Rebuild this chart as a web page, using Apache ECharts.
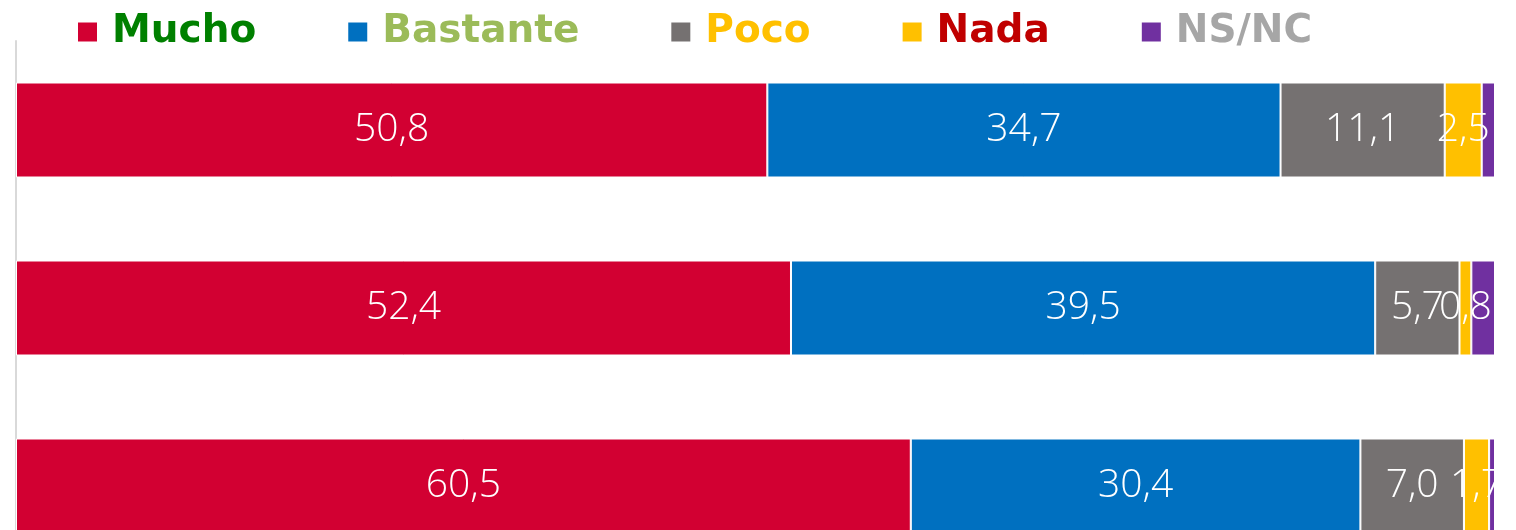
<!DOCTYPE html>
<html>
<head>
<meta charset="utf-8">
<script src="https://cdn.jsdelivr.net/npm/echarts@6/dist/echarts.min.js"></script>
<style>
  html, body { margin: 0; padding: 0; background: #fff; overflow: hidden; }
  #wrap { width: 1516px; height: 530px; overflow: hidden; }
  /* the reference is a crop: the plot continues below the window */
  #main { width: 1516px; height: 575px; }
</style>
</head>
<body>
<div id="wrap"><div id="main"></div></div>
<script>
// filas (las etiquetas no se ven en el recorte)
var categories = ['Fila 1', 'Fila 2', 'Fila 3'];

var mucho    = [50.8, 52.4, 60.5];
var bastante = [34.7, 39.5, 30.4];
var poco     = [11.1, 5.7, 7.0];
var nada     = [2.5, 0.8, 1.7];
var nsnc     = [0.9, 1.6, 0.4];

var names      = ['Mucho', 'Bastante', 'Poco', 'Nada', 'NS/NC'];
var barColors  = ['#D20032', '#0070C0', '#757171', '#FFC000', '#7030A0'];
var textColors = ['#008000', '#9BBB59', '#FFC000', '#C00000', '#A6A6A6'];
var values     = [mucho, bastante, poco, nada, nsnc];

var chart = echarts.init(document.getElementById('main'));

var series = names.map(function (n, i) {
  return {
    name: n,
    type: 'bar',
    stack: 'total',
    barWidth: 95,
    data: values[i],
    itemStyle: {
      color: barColors[i],
      borderColor: '#fff',
      borderWidth: 1
    },
    label: {
      show: n !== 'NS/NC',
      position: 'inside',
      color: '#fff',
      fontSize: 39,
      fontFamily: 'Open Sans',
      fontWeight: 300,
      formatter: function (p) {
        return p.value.toFixed(1).replace('.', ',');
      }
    }
  };
});

var option = {
  animation: false,
  legend: {
    left: 71,
    top: 6,
    itemWidth: 21,
    itemHeight: 21,
    itemGap: 90,
    icon: 'rect',
    textStyle: {
      fontSize: 39,
      fontWeight: 'bold',
      fontFamily: 'DejaVu Sans',
      lineHeight: 42,
      padding: [0, 0, 0, 9]
    },
    data: names.map(function (n, i) {
      return { name: n, textStyle: { color: textColors[i] } };
    })
  },
  grid: {
    left: 16,
    right: 21,
    top: 41,
    bottom: 0
  },
  xAxis: {
    type: 'value',
    min: 0,
    max: 100,
    show: false
  },
  yAxis: {
    type: 'category',
    inverse: true,
    data: categories,
    axisLine: { show: true, lineStyle: { color: '#D9D9D9', width: 2 } },
    axisTick: { show: false },
    axisLabel: { show: false }
  },
  series: series
};

chart.setOption(option);
</script>
</body>
</html>
